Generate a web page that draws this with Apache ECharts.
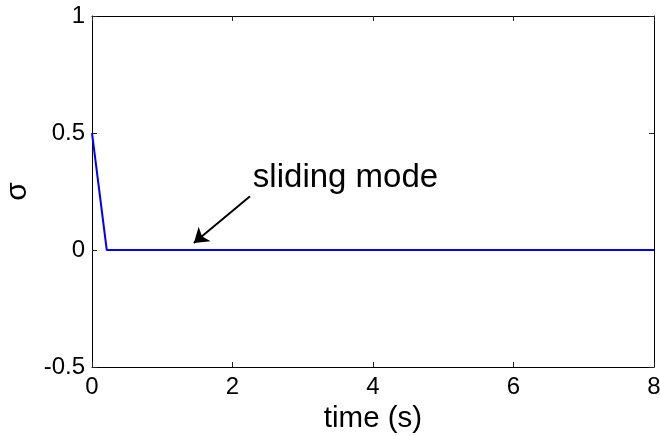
<!DOCTYPE html>
<html>
<head>
<meta charset="utf-8">
<script src="https://cdn.jsdelivr.net/npm/echarts@6/dist/echarts.min.js"></script>
<style>
  html, body { margin: 0; padding: 0; background: #fff; }
  #chart { width: 660px; height: 436px; }
</style>
</head>
<body>
<div id="chart"></div>
<script>
// Sliding variable sigma over time
const timeS = [0, 0.21, 8];
const sigmaValues = [0.5, 0, 0];

// Axis ranges and ticks
const xTicks = [0, 2, 4, 6, 8];
const yTicks = [-0.5, 0, 0.5, 1];

// Annotation: label and arrow (data coordinates)
const noteText = 'sliding mode';
const noteAnchor = [2.29, 0.31];
const arrowStart = [2.25, 0.23];
const arrowEnd = [1.45, 0.03];

const FONT = 'Liberation Sans, Arial, Helvetica, sans-serif';

const chart = echarts.init(document.getElementById('chart'), null, { renderer: 'canvas' });

const lineData = timeS.map((t, i) => [t, sigmaValues[i]]);

const baseX = {
  type: 'value',
  min: xTicks[0],
  max: xTicks[xTicks.length - 1],
  interval: xTicks[1] - xTicks[0],
  splitLine: { show: false },
  axisLine: { show: true, onZero: false, lineStyle: { color: '#000', width: 1 } },
  axisTick: { show: true, inside: true, length: 5, lineStyle: { color: '#222' } }
};
const baseY = {
  type: 'value',
  min: yTicks[0],
  max: yTicks[yTicks.length - 1],
  interval: yTicks[1] - yTicks[0],
  splitLine: { show: false },
  axisLine: { show: true, onZero: false, lineStyle: { color: '#000', width: 1 } },
  axisTick: { show: true, inside: true, length: 5, lineStyle: { color: '#222' } }
};

chart.setOption({
  animation: false,
  backgroundColor: '#fff',
  grid: { left: 92, right: 6, top: 16, bottom: 69, containLabel: false, outerBoundsMode: 'none' },
  xAxis: [
    Object.assign({}, baseX, {
      position: 'bottom',
      name: 'time (s)',
      nameLocation: 'middle',
      nameGap: 32,
      nameTextStyle: { fontFamily: FONT, fontSize: 29.5, color: '#000' },
      axisLabel: { show: true, margin: 8, fontFamily: FONT, fontSize: 24, color: '#000' }
    }),
    Object.assign({}, baseX, {
      position: 'top',
      axisLabel: { show: false }
    })
  ],
  yAxis: [
    Object.assign({}, baseY, {
      position: 'left',
      name: 'σ',
      nameLocation: 'middle',
      nameGap: 57,
      nameTextStyle: { fontFamily: FONT, fontSize: 30, color: '#000' },
      axisLabel: {
        show: true, margin: 7, fontFamily: FONT, fontSize: 24, color: '#000',
        formatter: v => String(v)
      }
    }),
    Object.assign({}, baseY, {
      position: 'right',
      axisLabel: { show: false }
    })
  ],
  series: [
    {
      type: 'line',
      data: lineData,
      showSymbol: false,
      symbol: 'none',
      lineStyle: { color: '#0000ff', width: 2 },
      silent: true,
      markLine: {
        silent: true,
        symbol: ['none', 'arrow'],
        symbolSize: 14,
        label: { show: false },
        lineStyle: { color: '#000', width: 2, type: 'solid' },
        itemStyle: { color: '#000' },
        emphasis: { disabled: true },
        data: [[{ coord: arrowStart }, { coord: arrowEnd }]]
      },
      markPoint: {
        silent: true,
        symbol: 'circle',
        symbolSize: 0,
        label: {
          show: true,
          position: 'right',
          distance: 0,
          formatter: noteText,
          fontFamily: FONT,
          fontSize: 33,
          color: '#000'
        },
        data: [{ coord: noteAnchor }]
      }
    }
  ]
});
</script>
</body>
</html>
